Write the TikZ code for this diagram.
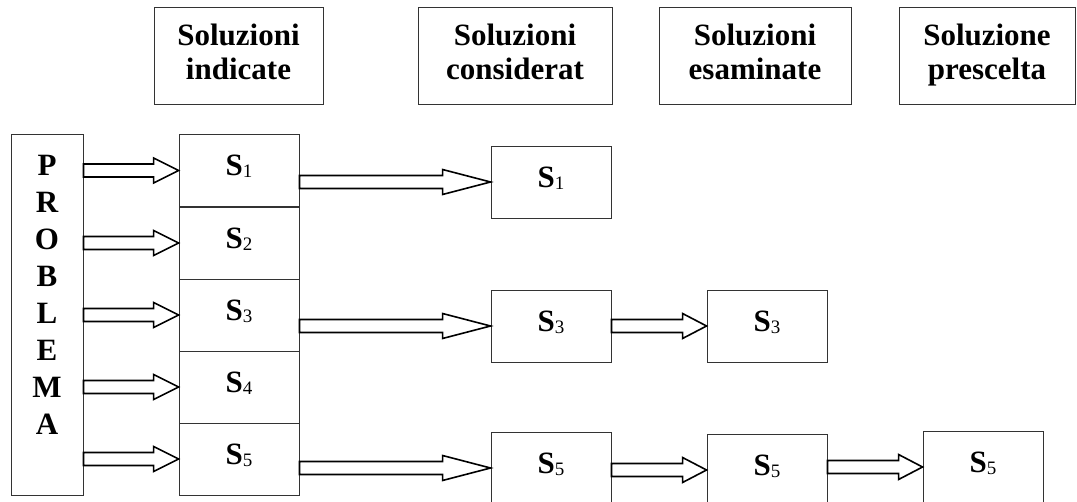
\documentclass[tikz,border=0pt]{standalone}
\usepackage{fontspec}
\setmainfont{Liberation Serif}
\usetikzlibrary{calc}
\newcommand{\Sx}[1]{S{\mdseries\fontsize{19}{19}\selectfont\raisebox{-2pt}{#1}}}
\newcommand{\hd}[1]{\raisebox{0pt}[\height][8pt]{#1}}
\tikzset{
  box/.style={draw=black!80, line width=0.9pt, rectangle, inner sep=0pt},
  cell/.style={box, minimum width=120pt, minimum height=72pt, text height=21pt, text depth=10pt,
    font=\bfseries\fontsize{31}{34}\selectfont},
  head/.style={box, minimum height=97pt, align=center, font=\bfseries\fontsize{31}{34}\selectfont},
  barrow/.style={draw=black, line width=1.6pt, fill=white, line join=miter,
    to path={let \p1=(\tikztostart), \p2=(\tikztotarget) in
      (\x1,\y2+6.5pt) -- (\x2-#1pt,\y2+6.5pt) -- (\x2-#1pt,\y2+12.5pt) -- (\x2,\y2)
      -- (\x2-#1pt,\y2-12.5pt) -- (\x2-#1pt,\y2-6.5pt) -- (\x1,\y2-6.5pt) -- cycle}},
}
\begin{document}
\begin{tikzpicture}[x=1pt,y=-1pt]
\useasboundingbox (0,0) rectangle (1077,502);
% headers
\node[head, minimum width=169pt] (H1) at (238.5,55.5) {Soluzioni\\\hd{indicate}};
\node[head, minimum width=194pt] (H2) at (515,55.5) {Soluzioni\\\hd{considerat}};
\node[head, minimum width=192pt] (H3) at (755,55.5) {Soluzioni\\\hd{esaminate}};
\node[head, minimum width=176pt] (H4) at (987,55.5) {Soluzione\\\hd{prescelta}};
% problema
\node[box, minimum width=72pt, minimum height=361pt] (P) at (47,314.5) {};
\node[align=center, inner sep=0pt, font=\bfseries\fontsize{31}{37}\selectfont] (Pt) at (47,294.5)
  {P\\R\\O\\B\\L\\E\\M\\A};
% solution column
\node[cell] (S1) at (239,170.5) {\Sx{1}};
\node[cell] (S2) at (239,243) {\Sx{2}};
\node[cell] (S3) at (239,315) {\Sx{3}};
\node[cell] (S4) at (239,387) {\Sx{4}};
\node[cell] (S5) at (239,459) {\Sx{5}};
% considered
\node[cell] (C1) at (551,182) {\Sx{1}};
\node[cell] (C3) at (551,326) {\Sx{3}};
\node[cell] (C5) at (551,468) {\Sx{5}};
% examined
\node[cell] (E3) at (767,326) {\Sx{3}};
\node[cell] (E5) at (767,470) {\Sx{5}};
% chosen
\node[cell] (F5) at (983,467) {\Sx{5}};
% arrows
\foreach \i in {1,...,5} {
  \draw[barrow=25] (P.east |- S\i.west) to (S\i.west);
}
\draw[barrow=48] (S1.east |- C1.west) to (C1.west);
\draw[barrow=48] (S3.east |- C3.west) to (C3.west);
\draw[barrow=48] (S5.east |- C5.west) to (C5.west);
\draw[barrow=24] (C3.east |- E3.west) to (E3.west);
\draw[barrow=24] (C5.east |- E5.west) to (E5.west);
\draw[barrow=24] (E5.east |- F5.west) to (F5.west);
\end{tikzpicture}
\end{document}
